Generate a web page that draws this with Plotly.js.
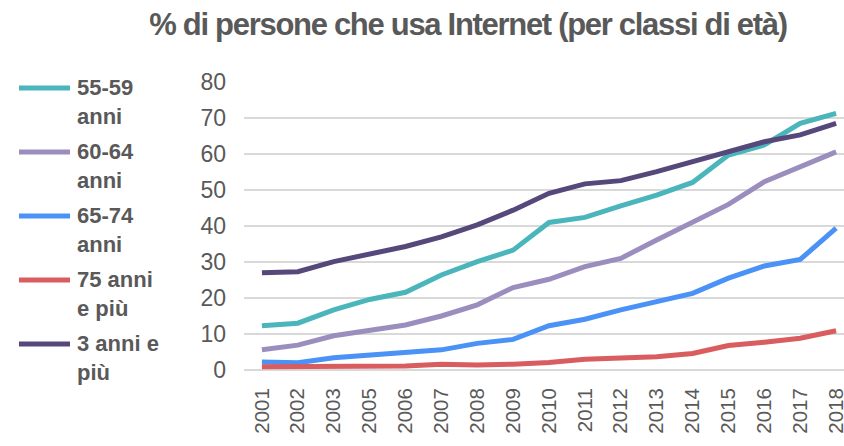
<!DOCTYPE html>
<html>
<head>
<meta charset="utf-8">
<script src="https://cdn.plot.ly/plotly-3.0.1.min.js"></script>
<style>
html,body{margin:0;padding:0;background:#fff;}
#chart{width:844px;height:446px;}
.gtitle{letter-spacing:-1.3px;}
</style>
</head>
<body>
<div id="chart"></div>
<script>
const years = ['2001','2002','2003','2005','2006','2007','2008','2009','2010','2011','2012','2013','2014','2015','2016','2017','2018'];
const age5559 = [12.3,13.0,16.7,19.6,21.6,26.4,30.1,33.3,41.0,42.4,45.6,48.6,52.1,59.7,62.5,68.5,71.3];
const age6064 = [5.6,6.9,9.5,10.9,12.5,15.0,18.1,22.9,25.2,28.7,31.0,36.1,41.0,46.0,52.3,56.3,60.6];
const age6574 = [2.2,2.0,3.4,4.2,4.9,5.6,7.4,8.5,12.3,14.1,16.7,19.0,21.3,25.5,28.9,30.7,39.4];
const age75plus = [0.9,0.9,1.1,1.2,1.1,1.6,1.4,1.6,2.1,3.0,3.5,3.7,4.6,6.8,7.7,8.8,10.9];
const age3plus = [27.0,27.3,30.1,32.1,34.3,37.0,40.3,44.4,49.1,51.7,52.6,55.1,57.9,60.6,63.4,65.3,68.5];
const seriesNames = ['55-59<br>anni','60-64<br>anni','65-74<br>anni','75 anni<br>e più','3 anni e<br>più'];
const yTicks = [0,10,20,30,40,50,60,70,80];

const seriesValues = [age5559, age6064, age6574, age75plus, age3plus];
const colors = ['#4AB6BC','#9C8DBF','#4B92F7','#D95C5E','#56487A'];
const textColor = '#595959';

const traces = seriesValues.map((v,i)=>({
  x: years, y: v, type:'scatter', mode:'lines', name: seriesNames[i],
  line:{color:colors[i], width:5}, showlegend:false, cliponaxis:false,
  hoverinfo:'x+y+name'
}));

// manual legend (pixel layout -> paper coords)
const plotTop = 82, plotBottom = 370, plotLeft = 244, plotW = 600;
const py = p => (plotBottom - p)/(plotBottom - plotTop);
const px = p => (p - plotLeft)/plotW;
const legendY = [88,152,216,280,344];
const shapes = [], annotations = [];
seriesNames.forEach((n,i)=>{
  shapes.push({type:'line', xref:'paper', yref:'paper', x0:px(19), x1:px(70), y0:py(legendY[i]), y1:py(legendY[i]),
    line:{color:colors[i], width:5}});
  annotations.push({xref:'paper', yref:'paper', x:px(75), y:py(legendY[i]+14.3), xanchor:'left', yanchor:'middle',
    text:n, align:'left', showarrow:false,
    font:{family:'Liberation Sans, Arial, sans-serif', size:22, color:textColor, weight:'bold'}});
});

const layout = {
  width:844, height:446,
  margin:{l:plotLeft, r:0, t:plotTop, b:446-plotBottom, pad:0},
  paper_bgcolor:'#fff', plot_bgcolor:'#fff',
  title:{text:'<b>% di persone che usa Internet (per classi di età)</b>', x:468/844, xanchor:'center', xref:'container',
    y:1-24/446, yanchor:'middle', yref:'container',
    font:{family:'Liberation Sans, Arial, sans-serif', size:31, color:textColor}},
  xaxis:{type:'category', range:[-0.5, 16.22], showgrid:false, zeroline:false, showline:false,
    tickangle:-90, ticks:'', ticklabelstandoff:13,
    tickfont:{family:'Liberation Sans, Arial, sans-serif', size:20.5, color:textColor}},
  yaxis:{range:[0,80], tickvals:yTicks, ticktext:yTicks.map(String), showgrid:true, gridcolor:'#D9D9D9', gridwidth:1.5,
    zeroline:true, zerolinecolor:'#D9D9D9', zerolinewidth:1.5, showline:false, ticks:'', ticklabelstandoff:17,
    tickfont:{family:'Liberation Sans, Arial, sans-serif', size:23, color:textColor}},
  shapes, annotations, showlegend:false
};
Plotly.newPlot('chart', traces, layout, {displayModeBar:false, staticPlot:true});
</script>
</body>
</html>
